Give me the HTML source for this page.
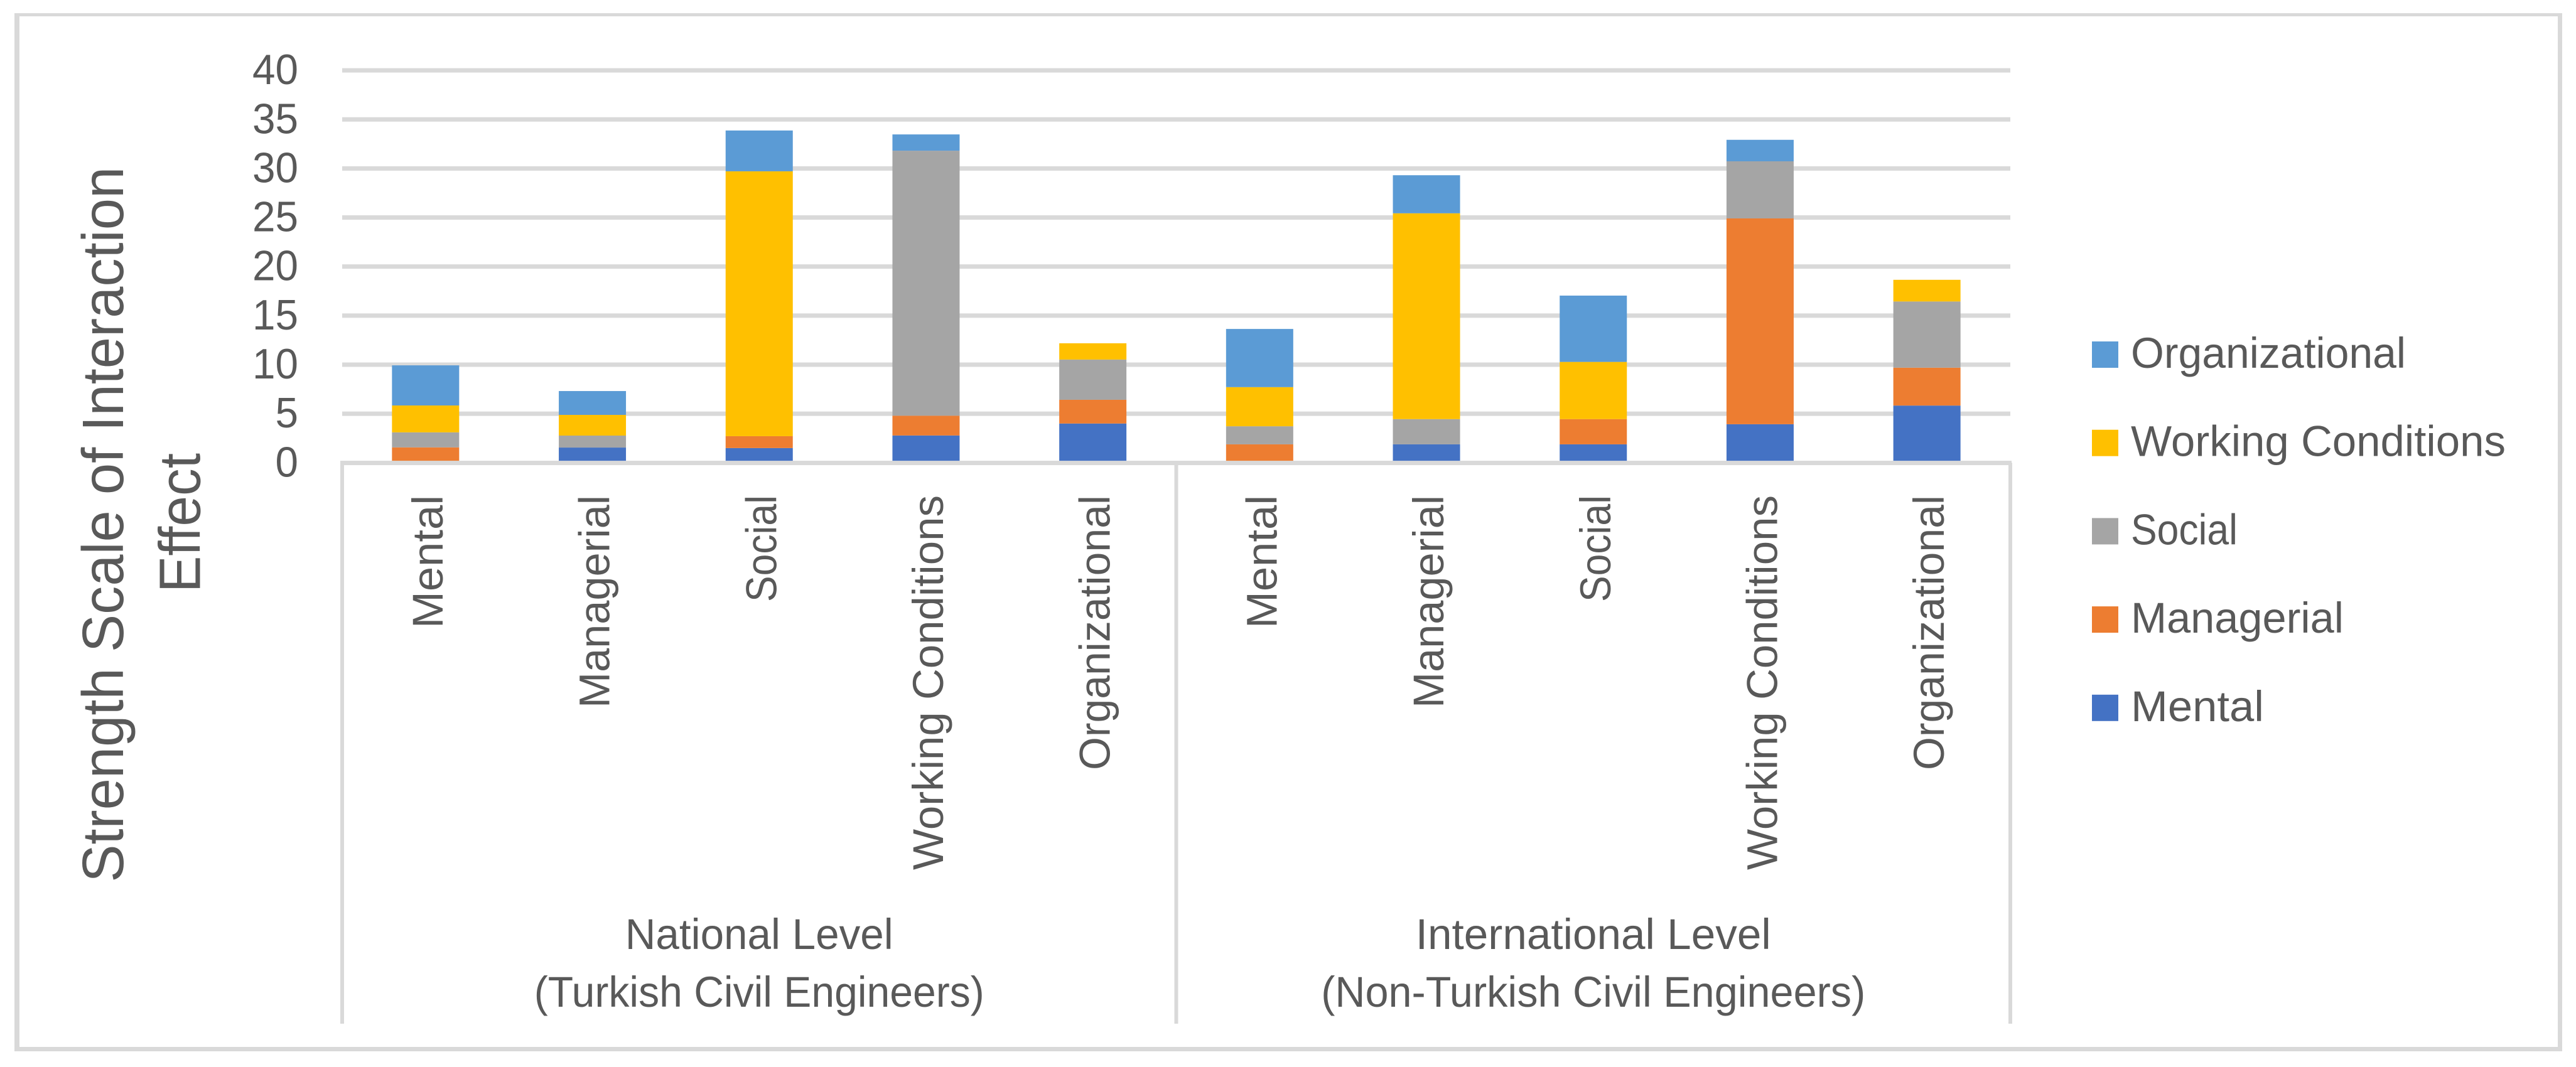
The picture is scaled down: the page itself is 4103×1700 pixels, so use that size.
<!DOCTYPE html>
<html lang="en">
<head>
<meta charset="utf-8">
<title>Strength Scale of Interaction Effect</title>
<style>
  html, body { margin: 0; padding: 0; background: #ffffff; }
  body { width: 4103px; height: 1700px; overflow: hidden; }
  svg { display: block; }
  text { font-family: "Liberation Sans", sans-serif; fill: #595959; }
</style>
</head>
<body>
<svg id="chart" xmlns="http://www.w3.org/2000/svg" width="4103" height="1700" viewBox="0 0 4103 1700">
  <rect x="0" y="0" width="4103" height="1700" fill="#ffffff"/>
  <g fill="#d9d9d9">
    <rect x="23" y="21" width="4058" height="5"/>
    <rect x="23" y="21" width="8" height="1654"/>
    <rect x="4074" y="21" width="7" height="1654"/>
    <rect x="23" y="1668" width="4058" height="7"/>
  </g>
  <g id="grid"></g>
  <g id="bars"></g>
  <g id="axes"></g>
  <g id="ticks"></g>
  <g id="cats"></g>
  <g id="groups"></g>
  <g id="legend"></g>
  <text transform="translate(196 835.8) rotate(-90)" text-anchor="middle" font-size="93" textLength="1140" lengthAdjust="spacingAndGlyphs">Strength Scale of Interaction</text>
  <text transform="translate(318.7 833) rotate(-90)" text-anchor="middle" font-size="93" textLength="222" lengthAdjust="spacingAndGlyphs">Effect</text>
</svg>
<script>
var categories = ["Mental", "Managerial", "Social", "Working Conditions", "Organizational", "Mental", "Managerial", "Social", "Working Conditions", "Organizational"];
var groupLabels = [
  ["National Level", "(Turkish Civil Engineers)"],
  ["International Level", "(Non-Turkish Civil Engineers)"]
];
var yTicks = [0, 5, 10, 15, 20, 25, 30, 35, 40];
var seriesNames = ["Mental", "Managerial", "Social", "Working Conditions", "Organizational"];
var mental = [0, 1.55, 1.5, 2.78, 4, 0, 1.88, 1.88, 3.93, 5.83];
var managerial = [1.57, 0, 1.21, 2.02, 2.42, 1.88, 0, 2.57, 20.98, 3.86];
var social = [1.53, 1.22, 0, 27.01, 4.1, 1.84, 2.57, 0, 5.82, 6.75];
var workingConditions = [2.74, 2.11, 27, 0, 1.66, 3.99, 20.98, 5.83, 0, 2.21];
var organizational = [4.09, 2.43, 4.16, 1.66, 0, 5.93, 3.88, 6.76, 2.19, 0];

var seriesValues = [mental, managerial, social, workingConditions, organizational];
var seriesColors = ["#4472C4", "#ED7D31", "#A5A5A5", "#FFC000", "#5B9BD5"];
var textWidths = {
  "Mental": 212, "Managerial": 339, "Social": 170, "Working Conditions": 597, "Organizational": 438,
  "National Level": 427, "(Turkish Civil Engineers)": 717,
  "International Level": 566, "(Non-Turkish Civil Engineers)": 867
};

var NS = "http://www.w3.org/2000/svg";
var plotLeft = 545, plotRight = 3202, zeroY = 737.3, pxPerUnit = 15.63;
var barWidth = 107, gridColor = "#d9d9d9";

function yScale(v) { return zeroY - v * pxPerUnit; }
function xBand(i) { return plotLeft + (i + 0.5) * (plotRight - plotLeft) / categories.length; }
function make(tag, attrs, parent) {
  var n = document.createElementNS(NS, tag);
  for (var k in attrs) { n.setAttribute(k, attrs[k]); }
  parent.appendChild(n);
  return n;
}
function slug(s) { return s.toLowerCase().replace(/[^a-z0-9]+/g, "-").replace(/^-|-$/g, ""); }

var gridG = document.getElementById("grid");
var barsG = document.getElementById("bars");
var axesG = document.getElementById("axes");
var ticksG = document.getElementById("ticks");
var catsG = document.getElementById("cats");
var groupsG = document.getElementById("groups");
var legendG = document.getElementById("legend");

yTicks.forEach(function (t) {
  if (t !== 0) {
    var line = make("rect", { x: plotLeft, y: yScale(t) - 3.5, width: plotRight - plotLeft, height: 7, fill: gridColor }, gridG);
    
    
  }
  var label = make("text", { x: 475, y: yScale(t) + 22, "text-anchor": "end", "font-size": 68, textLength: String(t).length * 36.5, lengthAdjust: "spacingAndGlyphs" }, ticksG);
  label.textContent = t;
  
  
});

categories.forEach(function (cat, i) {
  var cum = 0;
  seriesValues.forEach(function (vals, s) {
    var v = vals[i];
    if (v > 0) {
      var seg = make("rect", { x: xBand(i) - barWidth / 2, y: yScale(cum + v), width: barWidth, height: v * pxPerUnit, fill: seriesColors[s] }, barsG);
      
      
    }
    cum += v;
  });
  var lx = xBand(i) + 27;
  var label = make("text", { transform: "translate(" + lx + " 789) rotate(-90)", "text-anchor": "end", "font-size": 69, textLength: textWidths[cat], lengthAdjust: "spacingAndGlyphs" }, catsG);
  label.textContent = cat;
  
  
});

var axisLine = make("rect", { x: plotLeft - 3, y: zeroY - 3.2, width: plotRight - plotLeft + 5, height: 7, fill: gridColor }, axesG);


[0, 0.5, 1].forEach(function (f, i) {
  var dx = plotLeft + f * (plotRight - plotLeft);
  var divider = make("rect", { x: dx - 3, y: zeroY, width: 6, height: 1631 - zeroY, fill: gridColor }, axesG);
  
  
});

groupLabels.forEach(function (lines, g) {
  var cx = plotLeft + (g + 0.5) * (plotRight - plotLeft) / groupLabels.length;
  lines.forEach(function (txt, l) {
    var t = make("text", { x: cx, y: l === 0 ? 1512 : 1604, "text-anchor": "middle", "font-size": 69, textLength: textWidths[txt], lengthAdjust: "spacingAndGlyphs" }, groupsG);
    t.textContent = txt;
    
    
  });
});

seriesNames.slice().reverse().forEach(function (name, i) {
  var color = seriesColors[seriesNames.length - 1 - i];
  var top = 544 + i * 140.7;
  var entry = make("g", {}, legendG);
  
  
  var swatch = make("rect", { x: 3332, y: top, width: 42, height: 42, fill: color }, entry);
  
  
  var label = make("text", { x: 3394, y: top + 42, "font-size": 69, textLength: textWidths[name], lengthAdjust: "spacingAndGlyphs" }, entry);
  label.textContent = name;
  
  
});
</script>
</body>
</html>
